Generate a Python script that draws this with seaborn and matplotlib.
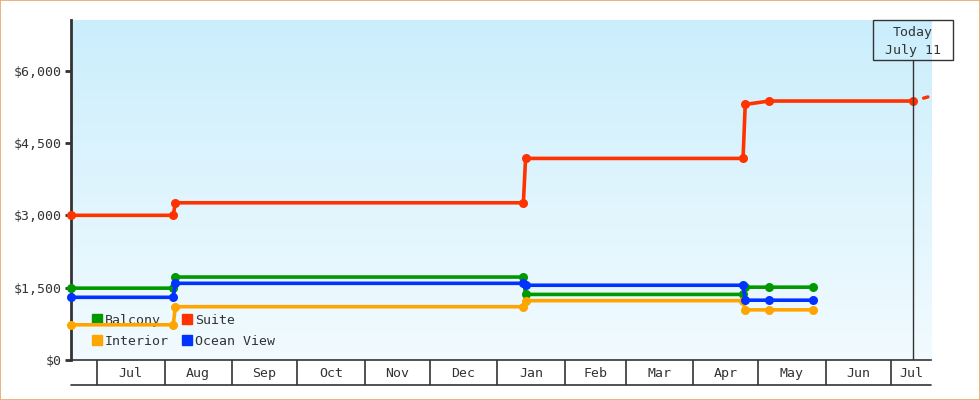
import numpy as np
import pandas as pd
import seaborn as sns
import matplotlib.pyplot as plt
import matplotlib.dates as mdates
import matplotlib.patches as mpatches
import matplotlib.transforms as mtransforms
from matplotlib.colors import LinearSegmentedColormap

# price history per cabin type
dates = ['2024-06-19', '2024-08-05', '2024-08-06', '2025-01-13', '2025-01-14',
         '2025-04-24', '2025-04-25', '2025-05-06', '2025-05-26']
suite_dates = ['2024-06-19', '2024-08-05', '2024-08-06', '2025-01-13', '2025-01-14',
               '2025-04-24', '2025-04-25', '2025-05-06', '2025-07-11']
balcony = [1490, 1490, 1720, 1720, 1360, 1360, 1510, 1510, 1510]
interior = [730, 730, 1105, 1105, 1230, 1230, 1040, 1040, 1040]
ocean_view = [1300, 1300, 1590, 1590, 1550, 1550, 1240, 1240, 1240]
suite = [3000, 3000, 3260, 3260, 4180, 4180, 5300, 5370, 5370]
proj_dates = ['2025-07-16', '2025-07-18']
suite_proj = [5430, 5455]

y_ticks = [0, 1500, 3000, 4500, 6000]
today = '2025-07-11'
today_label = 'Today\nJuly 11'

colors = {'Balcony': '#009a00', 'Suite': '#ff3300',
          'Interior': '#ffa500', 'Ocean View': '#0033ff'}

frames = []
for name, d, v in [('Balcony', dates, balcony), ('Interior', dates, interior),
                   ('Ocean View', dates, ocean_view), ('Suite', suite_dates, suite)]:
    frames.append(pd.DataFrame({'date': pd.to_datetime(d), 'price': v, 'cabin': name}))
df = pd.concat(frames, ignore_index=True)

sns.set_style('white')
plt.rcParams['font.family'] = ['DejaVu Sans Mono', 'DejaVu Sans']
text_color = '#333333'

fig = plt.figure(figsize=(9.8, 4), dpi=100)
ax = fig.add_axes([71 / 980, 40 / 400, 860 / 980, 340 / 400])
ax.set_facecolor('none')

# gradient background
cmap = LinearSegmentedColormap.from_list('bg', ['#f2fbff', '#cbeefc'])
grad = np.linspace(0, 1, 256).reshape(-1, 1)
ax.imshow(grad, extent=[0, 1, 0, 1], transform=ax.transAxes, aspect='auto',
          cmap=cmap, origin='lower', zorder=0)

sns.lineplot(data=df, x='date', y='price', hue='cabin', palette=colors,
             marker='o', markersize=6.5, markeredgewidth=0, linewidth=2.6,
             estimator=None, sort=False, legend=False, ax=ax, zorder=3)
ax.plot(pd.to_datetime(proj_dates), suite_proj, color=colors['Suite'], lw=2.4, zorder=3)
for ln in ax.lines:
    ln.set_clip_on(False)

x0 = pd.Timestamp('2024-06-19')
x1 = pd.Timestamp('2025-07-19 10:00')
ax.set_xlim(x0, x1)
ax.set_ylim(0, 7050)

# y axis
ax.set_yticks(y_ticks)
ax.set_yticklabels(['${:,}'.format(t) for t in y_ticks], fontsize=9.5, color=text_color)
ax.tick_params(axis='y', length=4, width=2, color=text_color, pad=3, left=True)
ax.set_xticks([])
ax.set_xlabel('')
ax.set_ylabel('')
for s in ['top', 'right']:
    ax.spines[s].set_visible(False)
ax.spines['left'].set_color(text_color)
ax.spines['left'].set_linewidth(2)
ax.spines['bottom'].set_color(text_color)
ax.spines['bottom'].set_linewidth(1.2)

# month band below the plot
xt = ax.get_xaxis_transform()
band = -25 / 340
starts = pd.date_range('2024-07-01', '2025-07-01', freq='MS')
ax.vlines(starts, band, 0, transform=xt, colors=text_color, lw=1.2, clip_on=False)
ax.plot([0, 1], [band, band], transform=ax.transAxes, color=text_color, lw=1.2, clip_on=False)
ends = list(starts[1:]) + [x1]
for s, e in zip(starts, ends):
    mid = s + (e - s) / 2
    ax.text(mid, band / 2 - 0.002, s.strftime('%b'), transform=xt, ha='center', va='center',
            fontsize=9.5, color=text_color)

# today marker
bt = mtransforms.blended_transform_factory(ax.transData, ax.transAxes)
tnum = mdates.date2num(pd.Timestamp(today))
span = mdates.date2num(x1) - mdates.date2num(x0)
w = 80 / 860 * span
box_bottom = 300 / 340
ax.plot([tnum, tnum], [0, box_bottom], transform=bt, color=text_color, lw=1, zorder=4)
ax.add_patch(mpatches.Rectangle((tnum - w / 2, box_bottom), w, 1 - box_bottom,
                                transform=bt, fill=False, edgecolor=text_color,
                                lw=1, clip_on=False, zorder=4))
ax.text(tnum, (1 + box_bottom) / 2 - 0.004, today_label, transform=bt, ha='center', va='center',
        fontsize=9.5, color=text_color, linespacing=1.5, zorder=4)

# legend
order = ['Balcony', 'Interior', 'Suite', 'Ocean View']
handles = [mpatches.Patch(color=colors[n], label=n) for n in order]
leg = ax.legend(handles=handles, ncol=2, loc='lower left', bbox_to_anchor=(0.024, 0.036),
                frameon=False, fontsize=9.5, handlelength=0.75, handleheight=0.75,
                handletextpad=0.25, columnspacing=1.0, labelspacing=0.6, borderpad=0,
                borderaxespad=0)
for t in leg.get_texts():
    t.set_color(text_color)
leg.set_zorder(1)

# outer border
fig.patches.append(mpatches.Rectangle((0.0005, 0.001), 0.999, 0.998, transform=fig.transFigure,
                                      fill=False, edgecolor='#e8a864', lw=1.2))

fig.savefig('out.png', dpi=100)
